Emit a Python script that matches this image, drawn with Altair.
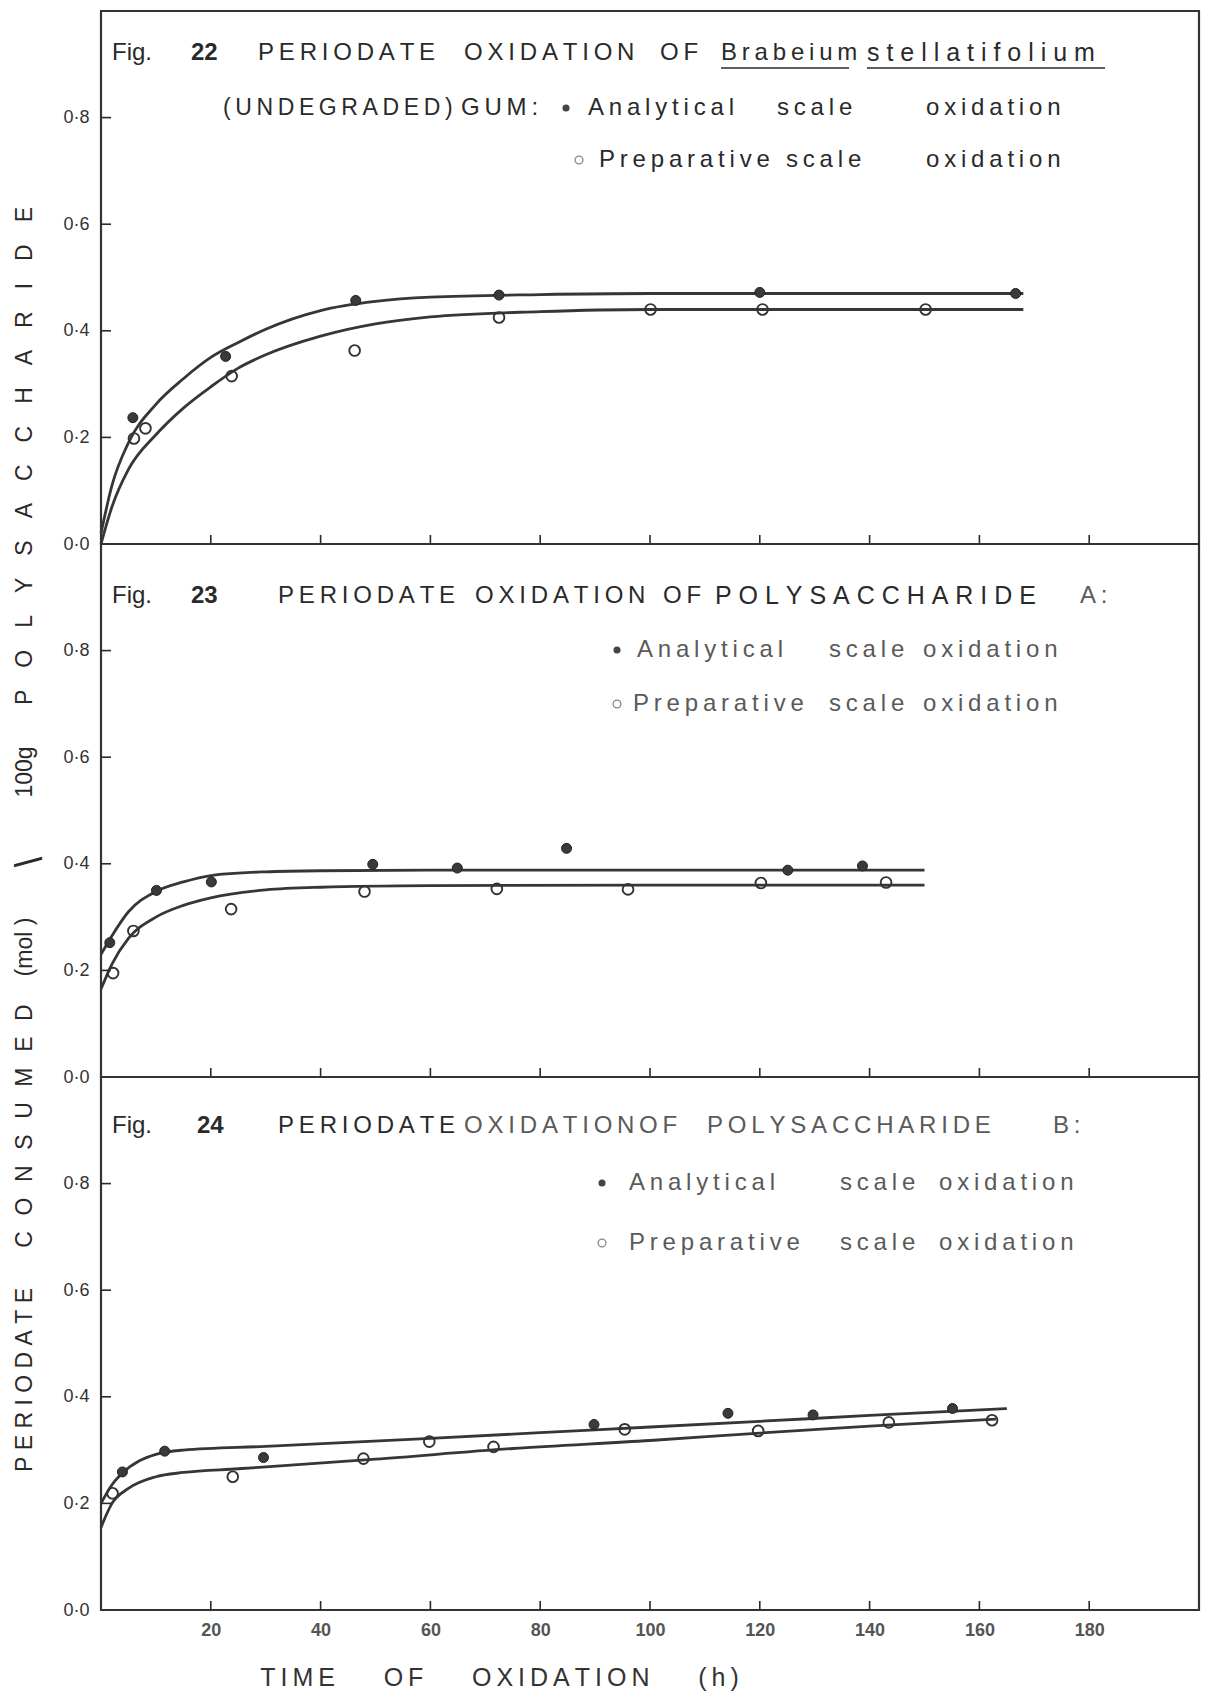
import altair as alt
import pandas as pd

# ---------------- values ----------------
# time of oxidation (h) and periodate consumed (mol / 100 g)
# Fig. 22 - Brabeium stellatifolium (undegraded) gum
f22_anal_t = [5.8, 22.7, 46.4, 72.5, 120.0, 166.6]
f22_anal_v = [0.237, 0.352, 0.457, 0.467, 0.472, 0.470]
f22_prep_t = [6.0, 8.1, 23.8, 46.2, 72.5, 100.1, 120.5, 150.2]
f22_prep_v = [0.198, 0.217, 0.315, 0.363, 0.425, 0.440, 0.440, 0.440]
f22_fit_t = [0, 2, 5, 10, 15, 20, 25, 30, 40, 50, 60, 80, 100, 130, 168]
f22_fit_anal = [0.02, 0.11, 0.19, 0.262, 0.31, 0.35, 0.378, 0.403, 0.438, 0.455, 0.463, 0.468, 0.47, 0.47, 0.47]
f22_fit_prep = [0.0, 0.07, 0.14, 0.205, 0.255, 0.295, 0.33, 0.355, 0.39, 0.413, 0.426, 0.436, 0.44, 0.44, 0.44]

# Fig. 23 - polysaccharide A
f23_anal_t = [1.6, 10.1, 20.1, 49.5, 64.9, 84.8, 125.1, 138.7]
f23_anal_v = [0.252, 0.350, 0.366, 0.399, 0.392, 0.429, 0.388, 0.396]
f23_prep_t = [2.2, 5.9, 23.7, 48.0, 72.1, 96.0, 120.2, 143.0]
f23_prep_v = [0.195, 0.274, 0.315, 0.348, 0.353, 0.352, 0.364, 0.365]
f23_fit_t = [0, 2, 5, 10, 15, 20, 30, 40, 60, 100, 150]
f23_fit_anal = [0.23, 0.265, 0.31, 0.348, 0.366, 0.378, 0.385, 0.387, 0.388, 0.388, 0.388]
f23_fit_prep = [0.165, 0.212, 0.26, 0.30, 0.322, 0.336, 0.351, 0.356, 0.359, 0.36, 0.36]

# Fig. 24 - polysaccharide B
f24_anal_t = [3.9, 11.6, 29.6, 89.8, 114.2, 129.7, 155.1]
f24_anal_v = [0.259, 0.298, 0.286, 0.348, 0.369, 0.366, 0.378]
f24_prep_t = [2.1, 24.0, 47.8, 59.8, 71.5, 95.4, 119.7, 143.5, 162.3]
f24_prep_v = [0.219, 0.250, 0.284, 0.316, 0.306, 0.339, 0.336, 0.352, 0.356]
f24_fit_anal_t = [0, 2, 4, 7, 10, 15, 30, 60, 90, 120, 140, 165]
f24_fit_anal = [0.20, 0.235, 0.258, 0.28, 0.292, 0.30, 0.307, 0.322, 0.338, 0.354, 0.365, 0.378]
f24_fit_prep_t = [0, 2, 5, 10, 15, 25, 50, 75, 100, 120, 140, 163]
f24_fit_prep = [0.155, 0.20, 0.228, 0.25, 0.258, 0.265, 0.283, 0.303, 0.318, 0.332, 0.345, 0.358]

x_ticks = [20, 40, 60, 80, 100, 120, 140, 160, 180]
y_ticks = [0.0, 0.2, 0.4, 0.6, 0.8]

# ---------------- layout / style ----------------
W, H = 1098, 533
XMAX, YMAX = 200, 1.0
FONT = "Liberation Sans"
INK = "#2a2a2a"
LIGHT = "#5a5a5a"
LINE = "#363636"
DUMMY = pd.DataFrame({"d": [0]})
THIN = "\u2009"
NBSP = "\u00a0"


def sp(word, sep=THIN):
    return sep.join(word)


def word(text, x, y, size=24, color=INK, angle=0, align="left", weight="normal"):
    return alt.Chart(DUMMY).mark_text(
        text=text, font=FONT, fontSize=size, color=color, angle=angle,
        align=align, baseline="middle", fontWeight=weight
    ).encode(x=alt.value(x), y=alt.value(y))


def underline(x1, x2, y):
    return alt.Chart(DUMMY).mark_rule(color=INK, strokeWidth=1.6).encode(
        x=alt.value(x1), x2=alt.value(x2), y=alt.value(y))


def legend_dot(x, y, filled):
    if filled:
        m = alt.Chart(DUMMY).mark_point(shape="circle", filled=True, size=50, color="#444", opacity=1)
    else:
        m = alt.Chart(DUMMY).mark_point(shape="circle", filled=False, size=60, color="#555", strokeWidth=1.3)
    return m.encode(x=alt.value(x), y=alt.value(y))


xs = alt.Scale(domain=[0, XMAX], nice=False, zero=False)
ys = alt.Scale(domain=[0, YMAX], nice=False, zero=False)

X_TITLE = (NBSP * 7).join([sp("TIME"), sp("OF"), sp("OXIDATION"), sp("(h)")])


def panel(fit_a_t, fit_a_v, fit_p_t, fit_p_v, a_t, a_v, p_t, p_v, annotations, bottom):
    fit = pd.concat([
        pd.DataFrame({"t": fit_a_t, "v": fit_a_v, "s": "Analytical"}),
        pd.DataFrame({"t": fit_p_t, "v": fit_p_v, "s": "Preparative"}),
    ])
    if bottom:
        xaxis = alt.Axis(values=x_ticks, ticks=False, domain=False, grid=False,
                         labelFont=FONT, labelFontSize=18, labelFontWeight="bold",
                         labelColor="#555", labelPadding=11,
                         title=X_TITLE,
                         titleFont=FONT, titleFontSize=25, titleFontWeight="normal",
                         titleColor="#333", titleX=398, titleY=67, titleAlign="center",
                         titleBaseline="middle", titleAnchor="start")
    else:
        xaxis = None
    yaxis = alt.Axis(values=y_ticks, ticks=False, domain=False, grid=False,
                     labelExpr="replace(format(datum.value, '.1f'), '.', '\u00b7')",
                     labelFont=FONT, labelFontSize=18, labelColor="#333",
                     labelPadding=12, title=None)
    lines = alt.Chart(fit).mark_line(color=LINE, strokeWidth=2.8, interpolate="monotone").encode(
        x=alt.X("t:Q", scale=xs, axis=xaxis),
        y=alt.Y("v:Q", scale=ys, axis=yaxis),
        detail="s:N",
    )
    filled = alt.Chart(pd.DataFrame({"t": a_t, "v": a_v})).mark_point(
        shape="circle", filled=True, size=100, color="#3a3a3a", opacity=1,
        stroke="#222", strokeWidth=1
    ).encode(x=alt.X("t:Q", scale=xs), y=alt.Y("v:Q", scale=ys))
    hollow = alt.Chart(pd.DataFrame({"t": p_t, "v": p_v})).mark_point(
        shape="circle", filled=False, size=115, color="#333", strokeWidth=1.9, opacity=1
    ).encode(x=alt.X("t:Q", scale=xs), y=alt.Y("v:Q", scale=ys))
    xt = alt.Chart(pd.DataFrame({"t": x_ticks})).mark_rule(color=INK, strokeWidth=1.6).encode(
        x=alt.X("t:Q", scale=xs), y=alt.value(H), y2=alt.value(H - 9))
    yt = alt.Chart(pd.DataFrame({"v": y_ticks[1:]})).mark_rule(color=INK, strokeWidth=1.6).encode(
        y=alt.Y("v:Q", scale=ys), x=alt.value(0), x2=alt.value(10))
    return alt.layer(lines, xt, yt, filled, hollow, *annotations).properties(width=W, height=H)


ann22 = [
    word("Fig.", 11, 42), word("22", 90, 42, weight="bold"),
    word(sp("PERIODATE"), 157, 42), word(sp("OXIDATION"), 363, 42), word(sp("OF"), 559, 42),
    word(sp("Brabeium"), 620, 42), word(sp("stellatifolium", NBSP), 766, 42, size=25),
    underline(620, 748, 57), underline(766, 1004, 57),
    word(sp("(UNDEGRADED)"), 122, 97, size=23), word(sp("GUM:"), 360, 97),
    legend_dot(465, 97, True),
    word(sp("Analytical"), 487, 97), word(sp("scale"), 676, 97), word(sp("oxidation"), 825, 97),
    legend_dot(478, 149, False),
    word(sp("Preparative"), 498, 149), word(sp("scale"), 685, 149), word(sp("oxidation"), 825, 149),
]

ann23 = [
    word("Fig.", 11, 52), word("23", 90, 52, weight="bold"),
    word(sp("PERIODATE"), 177, 52), word(sp("OXIDATION"), 374, 52), word(sp("OF"), 562, 52),
    word(sp("POLYSACCHARIDE", NBSP), 614, 52, size=25), word(sp("A:"), 979, 52, color=LIGHT),
    legend_dot(516, 106, True),
    word(sp("Analytical"), 536, 106, color=LIGHT), word(sp("scale"), 728, 106, color=LIGHT),
    word(sp("oxidation"), 822, 106, color=LIGHT),
    legend_dot(516, 160, False),
    word(sp("Preparative"), 532, 160, color=LIGHT), word(sp("scale"), 728, 160, color=LIGHT),
    word(sp("oxidation"), 822, 160, color=LIGHT),
    # y-axis title, drawn rotated in the left margin
    word(sp("PERIODATE", NBSP), -76, 836, size=23, angle=270, align="center"),
    word(sp("CONSUMED", NBSP + THIN + THIN), -76, 582, size=23, angle=270, align="center"),
    word("(mol )", -76, 403, size=23, angle=270, align="center"),
    word("\\", -70, 318, size=38, angle=270, align="center"),
    word("100g", -76, 228, size=23, angle=270, align="center"),
    word(sp("POLYSACCHARIDE", NBSP + NBSP + THIN + THIN), -76, -88, size=23, angle=270, align="center"),
]

ann24 = [
    word("Fig.", 11, 49), word("24", 96, 49, weight="bold"),
    word(sp("PERIODATE"), 177, 49), word(sp("OXIDATION"), 363, 49, color=LIGHT),
    word(sp("OF"), 538, 49, color=LIGHT), word(sp("POLYSACCHARIDE"), 606, 49, color=LIGHT),
    word(sp("B:"), 952, 49, color=LIGHT),
    legend_dot(501, 106, True),
    word(sp("Analytical"), 528, 106, color=LIGHT), word(sp("scale"), 739, 106, color=LIGHT),
    word(sp("oxidation"), 838, 106, color=LIGHT),
    legend_dot(501, 166, False),
    word(sp("Preparative"), 528, 166, color=LIGHT), word(sp("scale"), 739, 166, color=LIGHT),
    word(sp("oxidation"), 838, 166, color=LIGHT),
]

p22 = panel(f22_fit_t, f22_fit_anal, f22_fit_t, f22_fit_prep,
            f22_anal_t, f22_anal_v, f22_prep_t, f22_prep_v, ann22, False)
p23 = panel(f23_fit_t, f23_fit_anal, f23_fit_t, f23_fit_prep,
            f23_anal_t, f23_anal_v, f23_prep_t, f23_prep_v, ann23, False)
p24 = panel(f24_fit_anal_t, f24_fit_anal, f24_fit_prep_t, f24_fit_prep,
            f24_anal_t, f24_anal_v, f24_prep_t, f24_prep_v, ann24, True)

chart = alt.vconcat(p22, p23, p24, spacing=0, bounds="flush").properties(
    padding={"left": 2, "top": 1, "right": 4, "bottom": 0},
    background="white",
).configure_view(stroke="#333", strokeWidth=2.2)

chart.save("out.html", embed_options={"renderer": "svg", "actions": False})
